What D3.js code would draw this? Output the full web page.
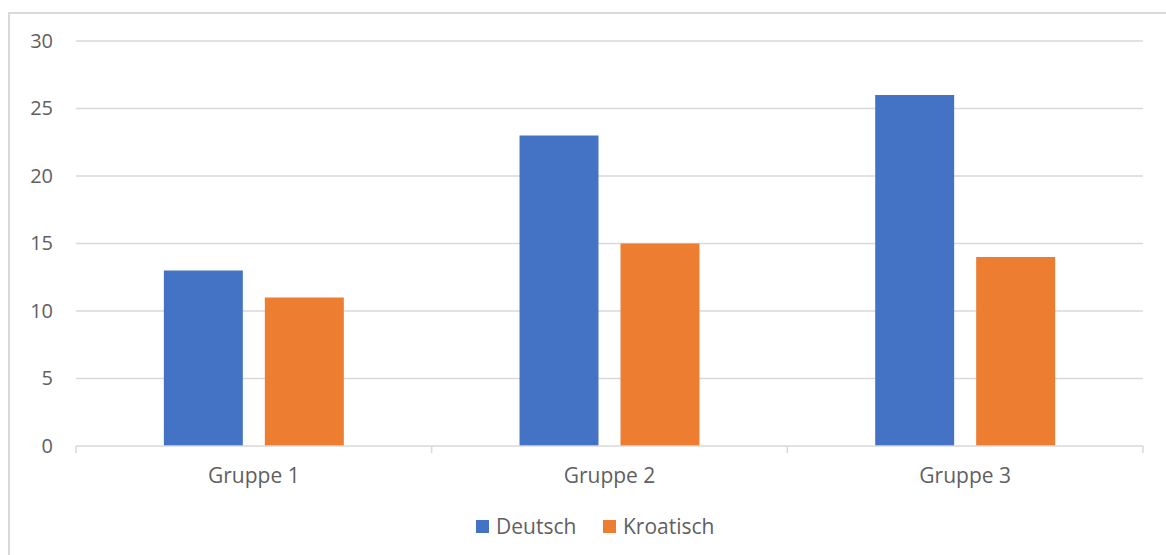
<!DOCTYPE html>
<html>
<head>
<meta charset="utf-8">
<script src="https://cdn.jsdelivr.net/npm/d3@7/dist/d3.min.js"></script>
<style>
  html, body { margin: 0; padding: 0; background: #fff; }
  svg { display: block; font-family: "Open Sans", "Noto Sans", sans-serif; }
</style>
</head>
<body>
<div id="chart"></div>
<script>
  // ── Data ──────────────────────────────────────────────────────────────────
  const CATEGORIES = ['Gruppe 1', 'Gruppe 2', 'Gruppe 3'];
  const SERIES     = ['Deutsch', 'Kroatisch'];
  const DEUTSCH    = [13, 23, 26];
  const KROATISCH  = [11, 15, 14];
  const Y_TICKS    = [0, 5, 10, 15, 20, 25, 30];
  const COLORS     = ['#4472c4', '#ed7d31'];

  const W = 1166, H = 555;
  const plot = { left: 76, right: 1143, top: 41, bottom: 446 };
  const TEXT = '#5f5f5f', GRID = '#d9d9d9';

  const svg = d3.select('#chart').append('svg')
    .attr('width', W).attr('height', H);

  // chart frame (cropped on right / bottom)
  svg.append('path')
    .attr('d', 'M9,' + (H + 2) + 'V13H' + (W + 2))
    .attr('fill', 'none')
    .attr('stroke', GRID)
    .attr('stroke-width', 2);

  const x0 = d3.scaleBand().domain(CATEGORIES).range([plot.left, plot.right]);
  const x1 = d3.scaleBand().domain(SERIES).range([0, x0.bandwidth()])
    .paddingInner(0.218).paddingOuter(0.87);
  const y = d3.scaleLinear().domain([0, 30]).range([plot.bottom, plot.top]);

  // gridlines
  svg.append('g')
    .selectAll('line')
    .data(Y_TICKS.filter(function (t) { return t > 0; }))
    .join('line')
    .attr('x1', plot.left).attr('x2', plot.right)
    .attr('y1', function (d) { return y(d); })
    .attr('y2', function (d) { return y(d); })
    .attr('stroke', GRID)
    .attr('stroke-width', 1.5);

  // y axis labels
  const yAxis = svg.append('g')
    .attr('transform', 'translate(53,0)')
    .call(d3.axisLeft(y).tickValues(Y_TICKS).tickSize(0).tickPadding(0));
  yAxis.select('.domain').remove();
  yAxis.selectAll('text')
    .attr('font-size', '20px')
    .attr('font-family', '"Open Sans", sans-serif')
    .attr('fill', TEXT);

  // bars
  const rows = CATEGORIES.map(function (c, i) {
    return { cat: c, values: [DEUTSCH[i], KROATISCH[i]] };
  });

  svg.append('g')
    .selectAll('g')
    .data(rows)
    .join('g')
    .attr('transform', function (d) { return 'translate(' + x0(d.cat) + ',0)'; })
    .selectAll('rect')
    .data(function (d) {
      return d.values.map(function (v, j) { return { key: SERIES[j], value: v, idx: j }; });
    })
    .join('rect')
    .attr('x', function (d) { return x1(d.key); })
    .attr('width', x1.bandwidth())
    .attr('y', function (d) { return y(d.value); })
    .attr('height', function (d) { return y(0) - y(d.value); })
    .attr('fill', function (d) { return COLORS[d.idx]; });

  // x axis
  const xAxis = svg.append('g')
    .attr('transform', 'translate(0,' + plot.bottom + ')')
    .call(d3.axisBottom(x0).tickSize(0).tickPadding(22));
  xAxis.select('.domain').remove();
  xAxis.selectAll('text')
    .attr('font-size', '21px')
    .attr('font-family', '"Open Sans", sans-serif')
    .attr('fill', TEXT);

  svg.append('line')
    .attr('x1', plot.left).attr('x2', plot.right)
    .attr('y1', plot.bottom).attr('y2', plot.bottom)
    .attr('stroke', GRID).attr('stroke-width', 1.5);

  // category boundary ticks
  const bounds = CATEGORIES.map(function (c) { return x0(c); }).concat([plot.right]);
  svg.append('g')
    .selectAll('line')
    .data(bounds)
    .join('line')
    .attr('x1', function (d) { return d; }).attr('x2', function (d) { return d; })
    .attr('y1', plot.bottom).attr('y2', plot.bottom + 7)
    .attr('stroke', GRID).attr('stroke-width', 1.5);

  // legend
  const legend = svg.append('g').attr('transform', 'translate(476,520)');
  const LEG_X = [0, 127];
  const item = legend.selectAll('g')
    .data(SERIES)
    .join('g')
    .attr('transform', function (d, i) { return 'translate(' + LEG_X[i] + ',0)'; });
  item.append('rect')
    .attr('width', 13).attr('height', 13)
    .attr('fill', function (d, i) { return COLORS[i]; });
  item.append('text')
    .attr('x', 20).attr('y', 13.5)
    .attr('font-size', '21px')
    .attr('fill', TEXT)
    .text(function (d) { return d; });
</script>
</body>
</html>
